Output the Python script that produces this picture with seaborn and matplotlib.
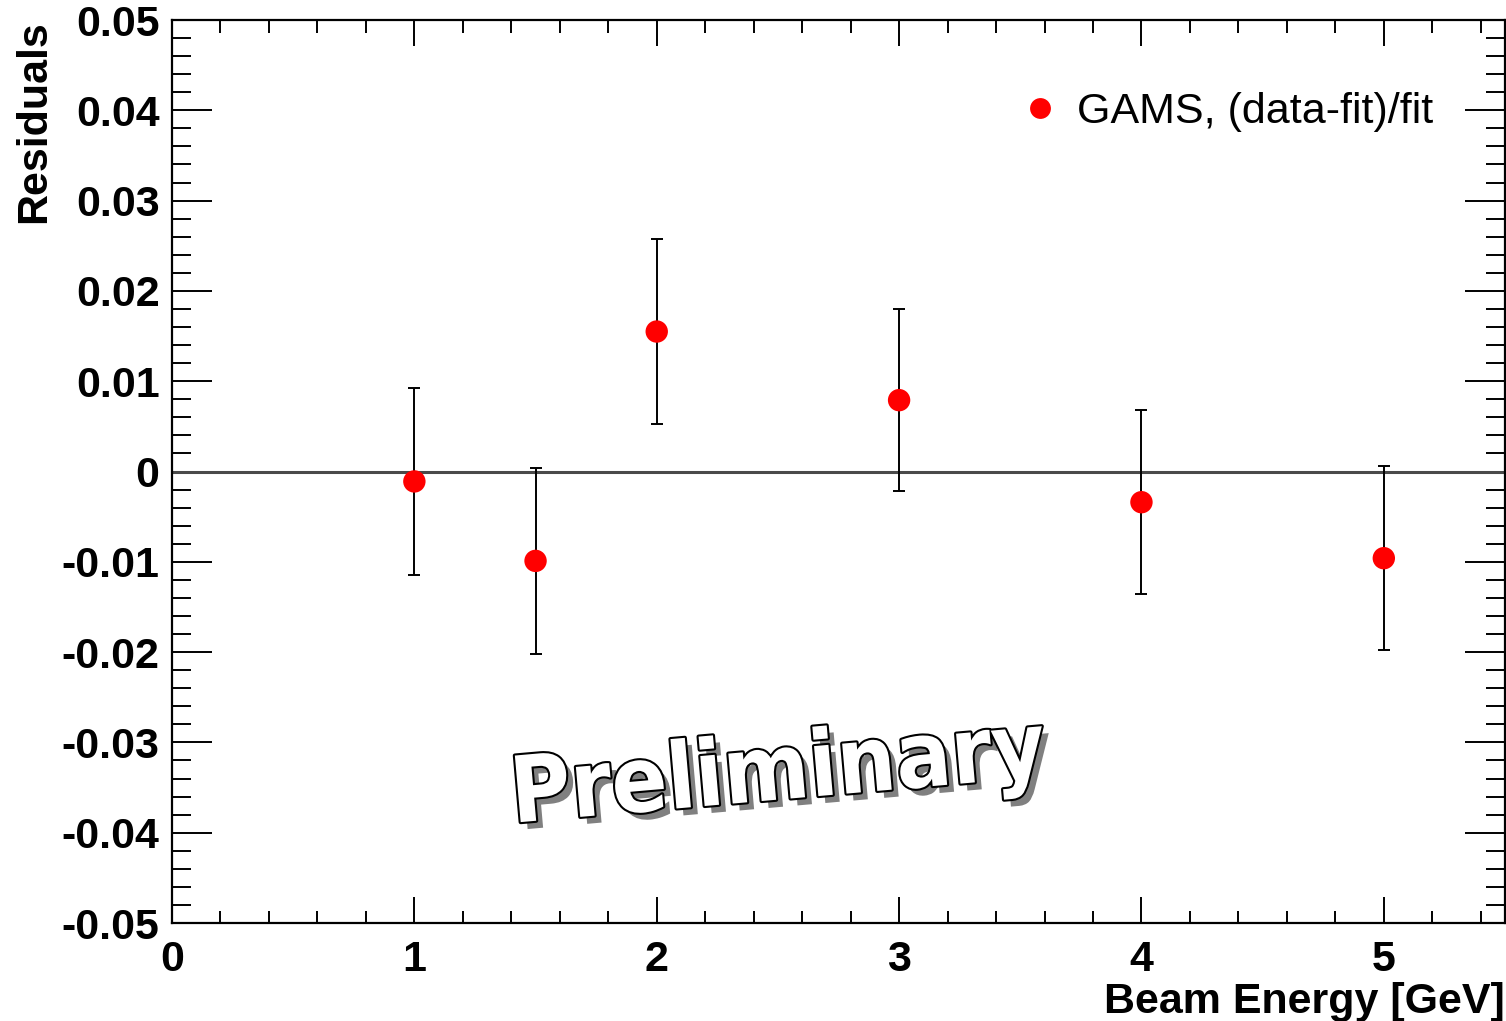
import matplotlib
matplotlib.use("Agg")
import matplotlib.pyplot as plt
import matplotlib.patheffects as pe
from matplotlib import font_manager as fm
from matplotlib.ticker import MultipleLocator
import seaborn as sns
import pandas as pd

energy = [1.0, 1.5, 2.0, 3.0, 4.0, 5.0]
residual = [-0.0011, -0.0099, 0.0155, 0.0079, -0.0034, -0.0096]
error = [0.0104, 0.0103, 0.0102, 0.0101, 0.0102, 0.0102]
series_label = "GAMS, (data-fit)/fit"
x_label = "Beam Energy [GeV]"
y_label = "Residuals"
watermark = "Preliminary"

df = pd.DataFrame({"energy": energy, "residual": residual, "error": error, "series": series_label})

sns.set_theme(style="ticks")
plt.rcParams['font.family'] = ['Liberation Sans', 'DejaVu Sans']
for k in ["text.color", "axes.labelcolor", "xtick.color", "ytick.color", "axes.edgecolor"]:
    plt.rcParams[k] = "black"

# find a condensed bold font for the watermark, fall back to Liberation Sans Bold
wm_font = None
cands = []
for f in fm.fontManager.ttflist:
    fn = f.fname.lower()
    if ("narrow" in fn or "condensed" in fn) and ("bold" in fn) and ("italic" not in fn) and ("oblique" not in fn):
        cands.append(f.fname)
if cands:
    wm_font = cands[0]
if wm_font:
    wm_prop = fm.FontProperties(fname=wm_font, size=66)
else:
    wm_prop = fm.FontProperties(family=["Liberation Sans", "DejaVu Sans"], weight="bold", size=50)

fig = plt.figure(figsize=(15.06, 10.21), dpi=100)
ax = fig.add_axes([172/1506, 1-923/1021, (1505-172)/1506, (923-20)/1021])

ax.axhline(0, color="#4a4a4a", lw=2.2, zorder=1)
ax.errorbar(df["energy"], df["residual"], yerr=df["error"], fmt="none",
            ecolor="black", elinewidth=1.4, capsize=4, capthick=1.4, zorder=2)
sns.scatterplot(data=df, x="energy", y="residual", hue="series", palette=["#ff0000"],
                s=260, edgecolor="none", ax=ax, zorder=3, legend=True)

ax.set_xlim(0, 5.5)
ax.set_ylim(-0.05, 0.05)
ax.xaxis.set_major_locator(MultipleLocator(1))
ax.xaxis.set_minor_locator(MultipleLocator(0.2))
ax.yaxis.set_major_locator(MultipleLocator(0.01))
ax.yaxis.set_minor_locator(MultipleLocator(0.002))

def yfmt(v, pos):
    if abs(v) < 1e-9:
        return "0"
    return f"{v:.2f}"
def xfmt(v, pos):
    return f"{v:.0f}"
ax.yaxis.set_major_formatter(plt.FuncFormatter(yfmt))
ax.xaxis.set_major_formatter(plt.FuncFormatter(xfmt))

ax.tick_params(axis="both", which="both", direction="in", top=True, right=True,
               width=1.4, color="black", labelcolor="black")
ax.tick_params(axis="y", which="major", length=29, pad=9, labelsize=31)
ax.tick_params(axis="y", which="minor", length=14)
ax.tick_params(axis="x", which="major", length=19, pad=12, labelsize=31)
ax.tick_params(axis="x", which="minor", length=9)
for lab in ax.get_xticklabels() + ax.get_yticklabels():
    lab.set_fontweight("bold")
for s in ax.spines.values():
    s.set_linewidth(1.6)
    s.set_color("black")

ax.set_xlabel(x_label, fontsize=31, fontweight="bold", loc="right", labelpad=2)
ax.set_ylabel(y_label, fontsize=31, fontweight="bold", loc="top", labelpad=5)

leg = ax.legend(loc="upper right", bbox_to_anchor=(0.975, 0.963), frameon=False,
                fontsize=31, handlelength=1.0, handletextpad=0.36, markerscale=1.0)
for h in leg.legend_handles:
    if hasattr(h, "set_markersize"):
        h.set_markersize(15)

ax.text(2.5, -0.0335, watermark, fontproperties=wm_prop,
        color="white", rotation=5, ha="center", va="center", zorder=4,
        path_effects=[pe.withSimplePatchShadow(offset=(5, -5), shadow_rgbFace="#808080", alpha=1.0),
                      pe.Stroke(linewidth=3, foreground="black"), pe.Normal()])

fig.savefig("out.png", dpi=100)
